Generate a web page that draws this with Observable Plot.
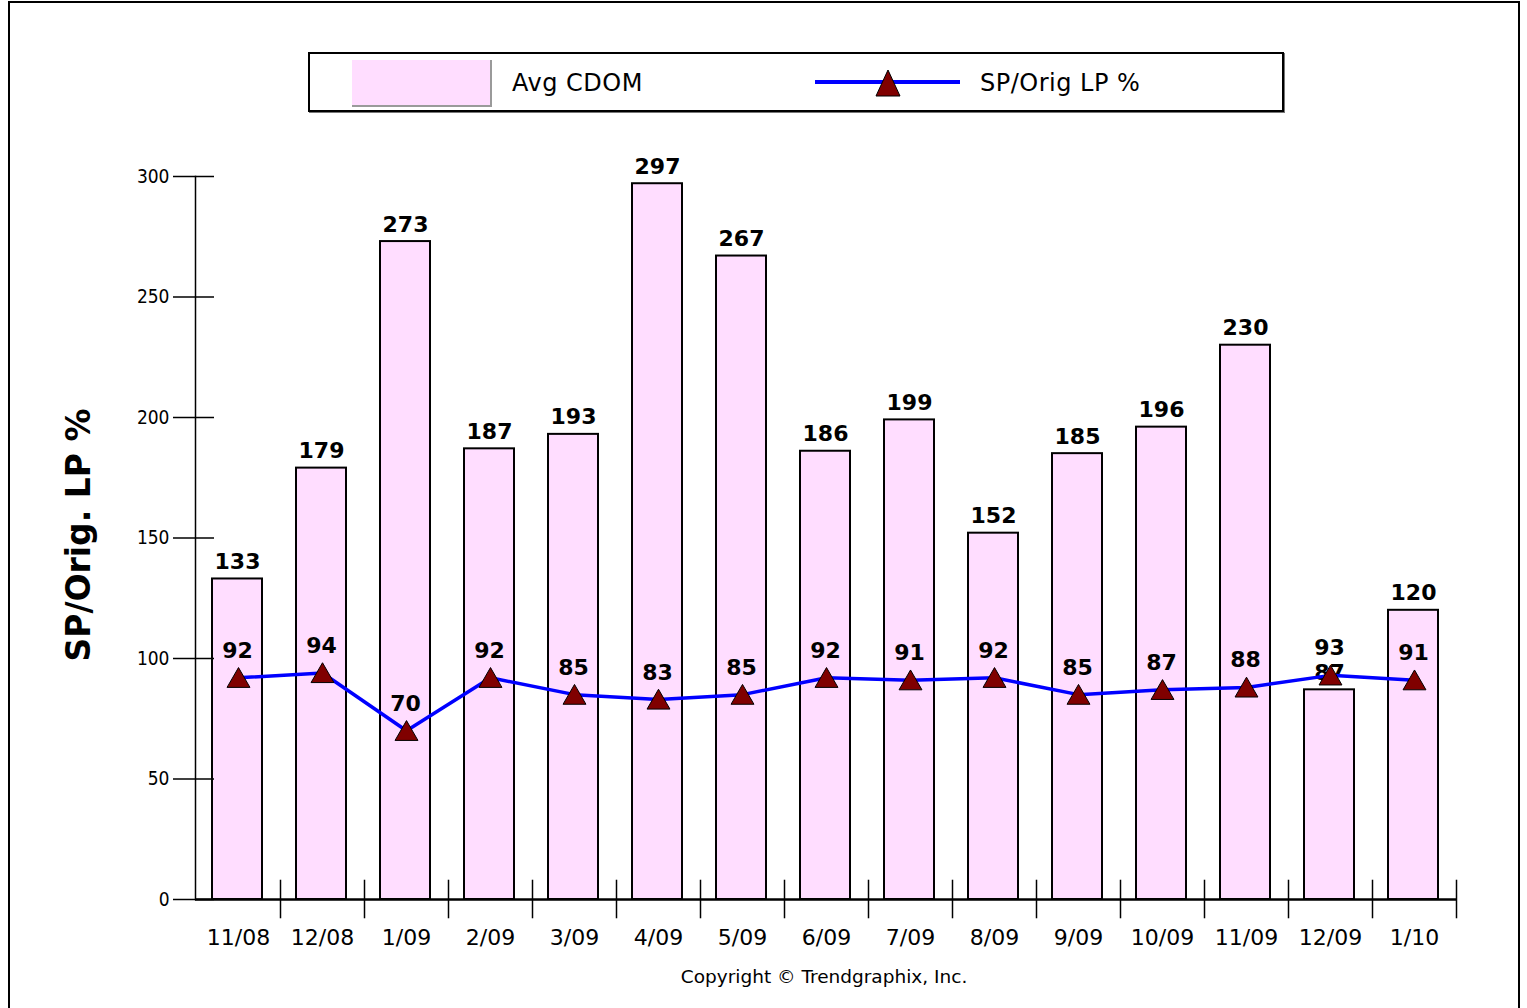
<!DOCTYPE html>
<html>
<head>
<meta charset="utf-8">
<script src="https://cdn.jsdelivr.net/npm/d3@7"></script>
<script src="https://cdn.jsdelivr.net/npm/@observablehq/plot@0.6"></script>
<style>
  html, body { margin: 0; padding: 0; background: #fff; }
  #wrap { position: relative; width: 1527px; height: 1008px; overflow: hidden; background: #fff; font-family: "DejaVu Sans", sans-serif; color: #000; }
  #border { position: absolute; left: 8px; top: 1px; width: 1508px; height: 1100px; border: 2px solid #000; }
  #chart { position: absolute; left: 0; top: 0; }
  #legend { position: absolute; left: 308px; top: 52px; width: 972px; height: 56px; border: 2px solid #000; box-shadow: 1px 1px 0 #777; background: #fff; }
  #swatch { position: absolute; left: 42px; top: 6px; width: 138px; height: 45px; background: #FFDDFF; border-right: 2px solid #9a9a9a; border-bottom: 2px solid #9a9a9a; }
  .ltext { position: absolute; top: 29px; transform: translateY(-50%); font-size: 24px; letter-spacing: 0.5px; white-space: nowrap; }
  #lline { position: absolute; left: 505px; top: 12px; }
  #ytitle { position: absolute; left: 78px; top: 535px; transform: translate(-50%, -50%) rotate(-90deg); font-size: 33px; font-weight: bold; white-space: nowrap; line-height: 1; }
  #caption { position: absolute; left: 574px; top: 966px; width: 500px; text-align: center; font-size: 18.5px; }
</style>
</head>
<body>
<div id="wrap">
  <div id="border"></div>
  <div id="chart"></div>
  <div id="legend">
    <div id="swatch"></div>
    <div class="ltext" style="left:202px">Avg CDOM</div>
    <svg id="lline" width="145" height="34">
      <line x1="0" y1="16" x2="145" y2="16" stroke="#0000FF" stroke-width="4"/>
      <polygon points="73,4 61,30 85,30" fill="#800000" stroke="#000" stroke-width="1"/>
    </svg>
    <div class="ltext" style="left:670px">SP/Orig LP %</div>
  </div>
  <div id="ytitle">SP/Orig. LP %</div>
  <div id="caption">Copyright © Trendgraphix, Inc.</div>
</div>
<script>
const categories = ["11/08","12/08","1/09","2/09","3/09","4/09","5/09","6/09","7/09","8/09","9/09","10/09","11/09","12/09","1/10"];
const avgCdom = [133,179,273,187,193,297,267,186,199,152,185,196,230,87,120];
const spOrigLp = [92,94,70,92,85,83,85,92,91,92,85,87,88,93,91];
const yTicks = [0,50,100,150,200,250,300];

const data = categories.map((c, i) => ({month: c, cdom: avgCdom[i], sp: spOrigLp[i]}));

const chart = Plot.plot({
  width: 1527,
  height: 960,
  marginLeft: 195,
  marginRight: 70,
  marginTop: 176,
  marginBottom: 61,
  style: {fontFamily: "DejaVu Sans", background: "transparent", color: "#000"},
  x: {domain: categories, padding: 0, label: null},
  y: {domain: [0, 300], label: null},
  marks: [
    Plot.barY(data, {x: "month", y: "cdom", fill: "#FFDDFF", stroke: "#000", strokeWidth: 2, insetLeft: 16, insetRight: 18}),
    Plot.ruleY([0], {stroke: "#000", strokeWidth: 2.5}),
    Plot.frame({anchor: "left", stroke: "#000", strokeWidth: 1.5}),
    Plot.ruleX(categories, {x: d => d, dx: 42, y1: -8, y2: 8, stroke: "#000", strokeWidth: 1.5}),
    Plot.axisY({ticks: yTicks, tickSize: 41, dx: 19, tickPadding: 4, fontSize: 19, fontFamily: "DejaVu Sans Condensed", tickFormat: d => String(d), strokeWidth: 1.5, strokeOpacity: 1, label: null}),
    Plot.axisX({tickSize: 0, tickPadding: 30, fontSize: 22, letterSpacing: "1px", label: null}),
    Plot.text(data, {x: "month", y: "cdom", text: d => String(d.cdom), dx: -1, dy: -17, fontWeight: "bold", fontSize: 22, fill: "#000"}),
    Plot.line(data, {x: "month", y: "sp", stroke: "#0000FF", strokeWidth: 3.5}),
    Plot.dot(data, {x: "month", y: "sp", symbol: "triangle", r: 8.5, fill: "#800000", stroke: "#000", strokeWidth: 1, dy: 3}),
    Plot.text(data, {x: "month", y: "sp", text: d => String(d.sp), dx: -1, dy: -27, fontWeight: "bold", fontSize: 22, fill: "#000"})
  ]
});
document.getElementById("chart").appendChild(chart);
</script>
</body>
</html>
